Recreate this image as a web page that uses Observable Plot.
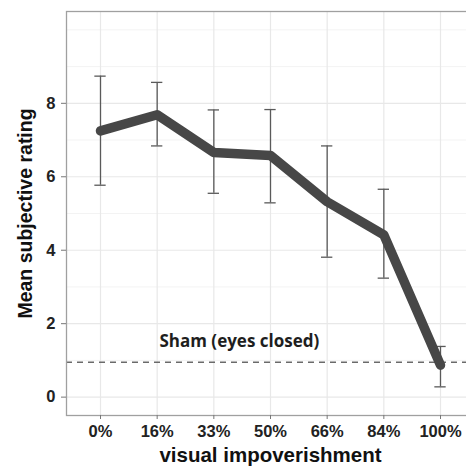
<!DOCTYPE html>
<html>
<head>
<meta charset="utf-8">
<script src="https://cdn.jsdelivr.net/npm/d3@7"></script>
<script src="https://cdn.jsdelivr.net/npm/@observablehq/plot@0.6"></script>
<style>
  html, body { margin: 0; padding: 0; background: #fff; }
  #wrap { width: 466px; height: 466px; overflow: hidden; }
  #wrap svg { overflow: hidden !important; }
</style>
</head>
<body>
<div id="wrap"></div>
<script>
const levels = ["0%", "16%", "33%", "50%", "66%", "84%", "100%"];
const means  = [7.25, 7.69, 6.66, 6.58, 5.32, 4.42, 0.87];
const upper  = [8.74, 8.57, 7.82, 7.83, 6.84, 5.66, 1.38];
const lower  = [5.77, 6.84, 5.55, 5.29, 3.81, 3.24, 0.28];
const shamValue = 0.95;
const shamLabel = "Sham (eyes closed)";
const yTicks = [0, 2, 4, 6, 8];
const yMinor = [1, 3, 5, 7, 9, 10];
const xTitle = "visual impoverishment";
const yTitle = "Mean subjective rating";

const F = "'Liberation Sans', Arial, Helvetica, sans-serif";
const data = levels.map((l, i) => ({i, level: l, mean: means[i], hi: upper[i], lo: lower[i]}));

const chart = Plot.plot({
  width: 466,
  height: 466,
  marginLeft: 66,
  marginRight: -8,
  marginTop: 11,
  marginBottom: 51,
  style: {background: "#fff", fontFamily: F},
  x: {type: "linear", domain: [-0.6, 6.6]},
  y: {domain: [-0.5, 10.5]},
  marks: [
    Plot.gridY(yMinor, {stroke: "#f3f3f3", strokeOpacity: 1, strokeWidth: 1}),
    Plot.gridY(yTicks, {stroke: "#e8e8e8", strokeOpacity: 1, strokeWidth: 1.2}),
    Plot.gridX(d3.range(levels.length), {stroke: "#e8e8e8", strokeOpacity: 1, strokeWidth: 1.2}),
    Plot.ruleY([shamValue], {stroke: "#6a6a6a", strokeWidth: 1.6, strokeDasharray: "6,5"}),
    Plot.ruleX(data, {x: "i", y1: "lo", y2: "hi", stroke: "#5a5a5a", strokeWidth: 1.3}),
    Plot.ruleY(data, {y: "hi", x1: d => d.i - 0.1, x2: d => d.i + 0.1, stroke: "#5a5a5a", strokeWidth: 1.3}),
    Plot.ruleY(data, {y: "lo", x1: d => d.i - 0.1, x2: d => d.i + 0.1, stroke: "#5a5a5a", strokeWidth: 1.3}),
    Plot.line(data, {x: "i", y: "mean", stroke: "#474747", strokeWidth: 9.5, strokeLinecap: "round", strokeLinejoin: "round"}),
    Plot.text([shamLabel], {x: 2.45, y: 1.36, text: d => d, lineAnchor: "bottom", textAnchor: "middle",
      fontFamily: "'Open Sans', sans-serif", fontWeight: 700, fontSize: 17, fill: "#1e1e1e"}),
    Plot.frame({stroke: "#a0a0a0", strokeWidth: 1.3}),
    Plot.axisY(yTicks, {tickSize: 5, tickPadding: 6, stroke: "#777", fill: "#222", fontFamily: F, fontSize: 16.5, fontWeight: "bold", label: null}),
    Plot.axisX(d3.range(levels.length), {tickSize: 4, tickPadding: 6, stroke: "#777", fill: "#222", fontFamily: F, fontSize: 16.5, fontWeight: "bold",
      tickFormat: i => levels[i], label: null}),
    Plot.text([xTitle], {frameAnchor: "bottom", dy: 40, text: d => d, lineAnchor: "middle", textAnchor: "middle",
      fontFamily: F, fontSize: 20.5, fontWeight: "bold", fill: "#111"}),
    Plot.text([yTitle], {frameAnchor: "left", dx: -40.5, rotate: -90, text: d => d, lineAnchor: "middle", textAnchor: "middle",
      fontFamily: F, fontSize: 19.5, fontWeight: "bold", fill: "#111"})
  ]
});
document.getElementById("wrap").appendChild(chart);
</script>
</body>
</html>
